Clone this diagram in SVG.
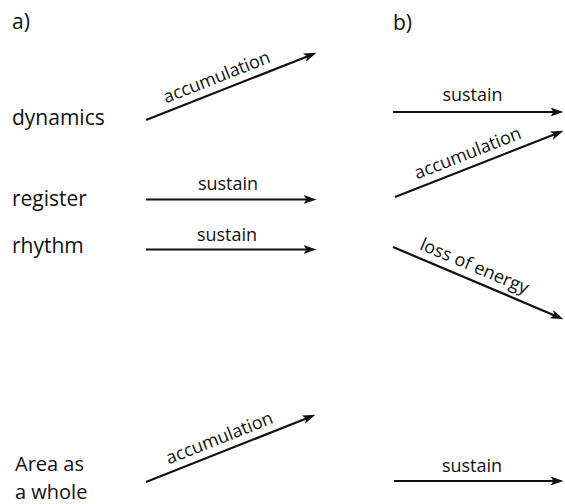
<svg xmlns="http://www.w3.org/2000/svg" width="565" height="504" viewBox="0 0 565 504">
<style>
  .lbl{font-family:"Open Sans","Liberation Sans",sans-serif;font-size:21px;fill:#111111}
  .edge{font-family:"Open Sans","Liberation Sans",sans-serif;font-size:18px;fill:#111111;text-anchor:middle}
  .arr{stroke:#111111;stroke-width:2.2;fill:none;marker-end:url(#ah)}
</style>
<defs>
  <marker id="ah" markerUnits="userSpaceOnUse" markerWidth="13" markerHeight="9" refX="8.5" refY="4.5" orient="auto">
    <path d="M0,0 L13,4.5 L0,9 L3,4.5 z" fill="#111111"/>
  </marker>
</defs>
<rect width="565" height="504" fill="#ffffff"/>
<g id="panel-a-label"><text class="lbl" x="12" y="29">a)</text></g>
<g id="panel-b-label"><text class="lbl" x="393" y="30">b)</text></g>
<g id="dynamics"><text class="lbl" x="12" y="125">dynamics</text></g>
<g id="register"><text class="lbl" x="12" y="206">register</text></g>
<g id="rhythm"><text class="lbl" x="12" y="253">rhythm</text></g>
<g id="area"><text class="lbl" style="font-size:20px"><tspan x="15" y="471">Area as</tspan><tspan x="15" y="499">a whole</tspan></text></g>
<g id="connectors">
  <line class="arr" x1="146" y1="120" x2="312.3" y2="54.5"/>
  <text class="edge" transform="translate(221.8,90.1) rotate(-21.5)" x="0" y="-8">accumulation</text>
  <line class="arr" x1="146" y1="199.5" x2="312" y2="199.5"/>
  <text class="edge" x="228" y="190">sustain</text>
  <line class="arr" x1="146" y1="249.5" x2="312" y2="249.5"/>
  <text class="edge" x="227" y="241">sustain</text>
  <line class="arr" x1="393" y1="112" x2="559" y2="112"/>
  <text class="edge" x="472.5" y="101">sustain</text>
  <line class="arr" x1="395" y1="197" x2="559.3" y2="132.5"/>
  <text class="edge" transform="translate(472.8,166.2) rotate(-21.4)" x="0" y="-8">accumulation</text>
  <line class="arr" x1="393" y1="247" x2="559.3" y2="317.4"/>
  <text class="edge" transform="translate(469,279) rotate(23)" x="0" y="-8">loss of energy</text>
  <line class="arr" x1="146" y1="482" x2="311.3" y2="416.5"/>
  <text class="edge" transform="translate(224.5,451) rotate(-21.6)" x="0" y="-8">accumulation</text>
  <line class="arr" x1="394" y1="481" x2="559" y2="481"/>
  <text class="edge" x="472" y="472">sustain</text>
</g>
</svg>
